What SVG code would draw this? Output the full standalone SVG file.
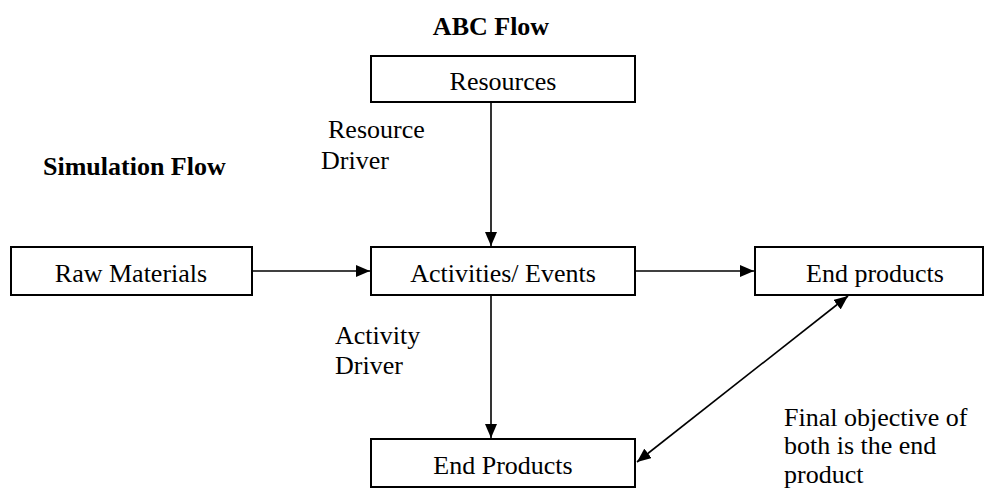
<svg xmlns="http://www.w3.org/2000/svg" width="987" height="491" viewBox="0 0 987 491">
<style>
.box{fill:#fff;stroke:#000;stroke-width:2}
text{font-family:'Liberation Serif','Tinos','Times New Roman','DejaVu Serif',serif;font-size:26px;fill:#000}
.c{text-anchor:middle}
.b{font-weight:bold}
.ln{stroke:#000;stroke-width:1.6;fill:none}
</style>
<defs>
<marker id="ah" viewBox="0 0 14 12" refX="14" refY="6" markerWidth="14" markerHeight="12" markerUnits="userSpaceOnUse" orient="auto-start-reverse">
<path d="M0,0 L14,6 L0,12 Z" fill="#000"/>
</marker>
</defs>
<rect width="987" height="491" fill="#fff"/>
<text class="b c" x="491" y="35" font-family="Liberation Serif, serif">ABC Flow</text>
<text class="b" x="43" y="175" font-family="Liberation Serif, serif">Simulation Flow</text>
<text x="328" y="138" font-family="Liberation Serif, serif">Resource</text>
<text x="321" y="169" font-family="Liberation Serif, serif">Driver</text>
<text x="335" y="344" font-family="Liberation Serif, serif">Activity</text>
<text x="335" y="374" font-family="Liberation Serif, serif">Driver</text>
<text x="784" y="426" font-family="Liberation Serif, serif">Final objective of</text>
<text x="784" y="454" font-family="Liberation Serif, serif">both is the end</text>
<text x="784" y="483" font-family="Liberation Serif, serif">product</text>
<g id="connectors">
<line class="ln" x1="491" y1="103" x2="491" y2="246" marker-end="url(#ah)"/>
<line class="ln" x1="491" y1="296" x2="491" y2="438" marker-end="url(#ah)"/>
<line class="ln" x1="253" y1="271" x2="370" y2="271" marker-end="url(#ah)"/>
<line class="ln" x1="636" y1="271" x2="754" y2="271" marker-end="url(#ah)"/>
<line class="ln" x1="848" y1="296" x2="637" y2="462" marker-start="url(#ah)" marker-end="url(#ah)"/>
</g>
<g id="resources"><rect class="box" x="371" y="56" width="264" height="46"/><text class="c" x="503" y="90" font-family="Liberation Serif, serif">Resources</text></g>
<g id="raw-materials"><rect class="box" x="11" y="247" width="241" height="48"/><text class="c" x="131" y="282" font-family="Liberation Serif, serif">Raw Materials</text></g>
<g id="activities"><rect class="box" x="371" y="247" width="264" height="48"/><text class="c" x="503" y="282" font-family="Liberation Serif, serif">Activities/ Events</text></g>
<g id="end-products-right"><rect class="box" x="755" y="247" width="228" height="48"/><text class="c" x="875" y="282" font-family="Liberation Serif, serif">End products</text></g>
<g id="end-products-bottom"><rect class="box" x="371" y="439" width="264" height="48"/><text class="c" x="503" y="474" font-family="Liberation Serif, serif">End Products</text></g>
</svg>
